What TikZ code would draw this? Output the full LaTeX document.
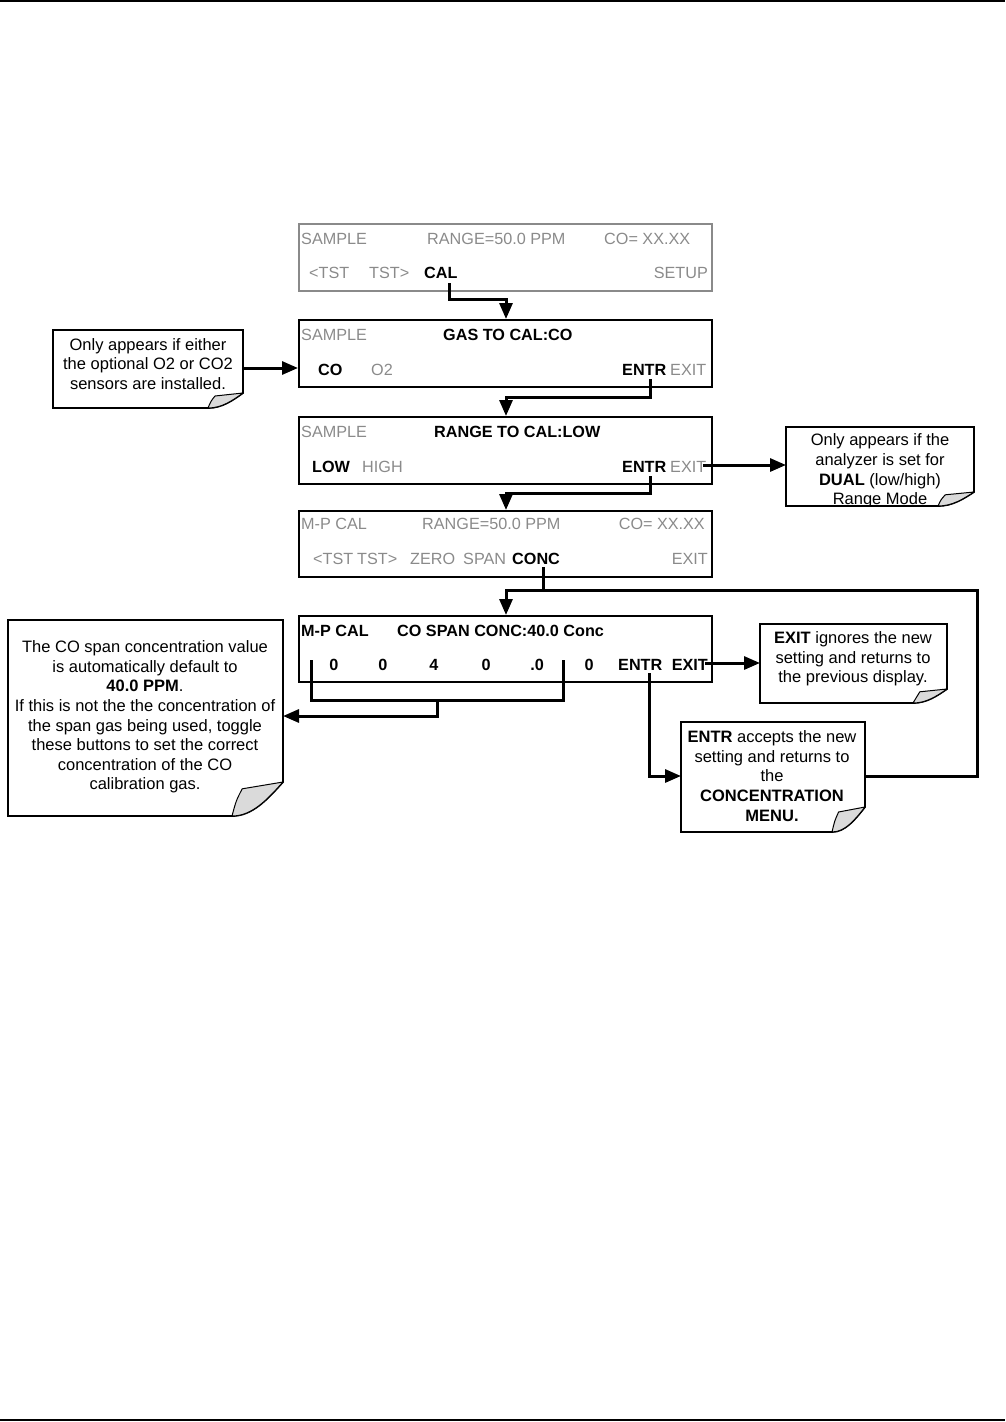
\documentclass[tikz,border=0pt]{standalone}
\usepackage{fontspec}
\setmainfont{Liberation Sans}
\usetikzlibrary{arrows.meta}
\definecolor{lcdgray}{HTML}{8A8A8A}
\definecolor{foldgray}{HTML}{DADADA}
\newcommand\notefold[6]{% x1 y1 x2 y2 xf yf
  \draw[calloutline] (#1,#2) -- (#3,#2) -- (#3,#6)
     .. controls ({#3-0.3*(#3-#5)},{#6+0.5*(#4-#6)}) and ({#5+0.4*(#3-#5)},#4) .. (#5,#4)
     -- (#1,#4) -- cycle;
  \draw[line width=1pt, fill=foldgray, line join=round] (#5,#4)
     .. controls ({#5+0.08*(#3-#5)},{#4-0.45*(#4-#6)}) .. ({#5+0.2*(#3-#5)},{#6+0.2*(#4-#6)})
     -- (#3,#6)
     .. controls ({#3-0.3*(#3-#5)},{#6+0.5*(#4-#6)}) and ({#5+0.4*(#3-#5)},#4) .. (#5,#4) -- cycle;
}
\begin{document}
\begin{tikzpicture}[x=1pt,y=-1pt,
  dispbox/.style={draw=black, line width=2.2pt, anchor=north west, inner sep=0,
                  minimum width=413pt, minimum height=67pt},
  gtx/.style={text=lcdgray, inner sep=0, font=\fontsize{16.2}{19}\selectfont},
  btx/.style={text=black, inner sep=0, font=\fontsize{16.2}{19}\selectfont\bfseries},
  ctx/.style={inner sep=0, align=center, font=\fontsize{16.5}{19.6}\selectfont},
  conn/.style={line width=3pt},
  arr/.style={conn, -{Triangle[length=16pt,width=13pt]}},
  calloutline/.style={draw=black, line width=1.8pt, fill=white, line join=miter},
]
\useasboundingbox (0,0) rectangle (1005,1422);
% page rules
\draw[line width=2pt] (0,1) -- (1005,1);
\draw[line width=2pt] (0,1420) -- (1005,1420);

% ---------- display boxes ----------
\node[dispbox, draw=lcdgray, line width=1.8pt] (b1) at (298,223) {};
\node[dispbox] (b2) at (298,319) {};
\node[dispbox] (b3) at (298,416) {};
\node[dispbox, minimum height=66pt] (b4) at (298,510) {};
\node[dispbox, minimum height=66pt] (b5) at (298,615) {};

% box 1
\node[gtx, anchor=base west] (b1s) at (301,244) {SAMPLE};
\node[gtx, anchor=base west] (b1r) at (427,244) {RANGE=50.0 PPM};
\node[gtx, anchor=base west] (b1c) at (604,244) {CO= XX.XX};
\node[gtx, anchor=base west] (b1t1) at (309,278) {<TST};
\node[gtx, anchor=base west] (b1t2) at (369,278) {TST>};
\node[btx, anchor=base west] (cal) at (424,278) {CAL};
\node[gtx, anchor=base east] (b1set) at (708,278) {SETUP};

% box 2
\node[gtx, anchor=base west] (b2s) at (301,340) {SAMPLE};
\node[btx, anchor=base west] (b2h) at (443,340) {GAS TO CAL:CO};
\node[btx, anchor=base west] (b2co) at (318,375) {CO};
\node[gtx, anchor=base west] (b2o2) at (371,375) {O2};
\node[btx, anchor=base west] (b2en) at (622,375) {ENTR};
\node[gtx, anchor=base west] (b2ex) at (670,375) {EXIT};

% box 3
\node[gtx, anchor=base west] (b3s) at (301,437) {SAMPLE};
\node[btx, anchor=base west] (b3h) at (434,437) {RANGE TO CAL:LOW};
\node[btx, anchor=base west] (b3lo) at (312,472) {LOW};
\node[gtx, anchor=base west] (b3hi) at (362,472) {HIGH};
\node[btx, anchor=base west] (b3en) at (622,472) {ENTR};
\node[gtx, anchor=base west] (b3ex) at (670,472) {EXIT};

% box 4
\node[gtx, anchor=base west] (b4s) at (301,529) {M-P CAL};
\node[gtx, anchor=base west] (b4r) at (422,529) {RANGE=50.0 PPM};
\node[gtx, anchor=base east] (b4c) at (705,529) {CO= XX.XX};
\node[gtx, anchor=base west] (b4t1) at (313,564) {<TST};
\node[gtx, anchor=base west] (b4t2) at (357,564) {TST>};
\node[gtx, anchor=base west] (b4z) at (410,564) {ZERO};
\node[gtx, anchor=base west] (b4sp) at (463,564) {SPAN};
\node[btx, anchor=base west] (conc) at (512,564) {CONC};
\node[gtx, anchor=base east] (b4ex) at (708,564) {EXIT};

% box 5
\node[btx, anchor=base west] (b5s) at (301,636) {M-P CAL};
\node[btx, anchor=base west] (b5h) at (397,636) {CO SPAN CONC:40.0 Conc};
\node[btx, anchor=base] (d1) at (334,670) {0};
\node[btx, anchor=base] (d2) at (383,670) {0};
\node[btx, anchor=base] (d3) at (434,670) {4};
\node[btx, anchor=base] (d4) at (486,670) {0};
\node[btx, anchor=base] (d5) at (537,670) {.0};
\node[btx, anchor=base] (d6) at (589,670) {0};
\node[btx, anchor=base west] (b5en) at (618,670) {ENTR};
\node[btx, anchor=base east] (b5ex) at (708,670) {EXIT};

% ---------- callouts ----------
\notefold{53}{330}{243}{408}{208}{393}
\node[ctx] (n1) at (148,364) {Only appears if either\\the optional O2 or CO2\\sensors are installed.};
\coordinate (n1e) at (243,368);

\notefold{786}{427}{974}{506}{938}{492}
\begin{scope}
\clip (786,427) rectangle (974,506);
\node[ctx] (n2) at (880,471) {Only appears if the\\analyzer is set for\\{\bfseries DUAL} (low/high)\\Range Mode};
\end{scope}
\draw[line width=1.8pt] (786,506) -- (938,506);
\coordinate (n2w) at (786,465);

\notefold{8}{620}{283}{816}{232}{782}
\node[ctx] (n3) at (145,717) {The CO span concentration value\\is automatically default to\\{\bfseries 40.0 PPM}.\\If this is not the the concentration of\\the span gas being used, toggle\\these buttons to set the correct\\concentration of the CO\\calibration gas.};
\coordinate (n3e) at (283,716);

\notefold{760}{624}{947}{703}{913}{689}
\node[ctx] (n4) at (853,659) {{\bfseries EXIT} ignores the new\\setting and returns to\\the previous display.};
\coordinate (n4w) at (760,663);

\notefold{681}{722}{865}{832}{832}{807}
\node[ctx] (n5) at (772,776) {{\bfseries ENTR} accepts the new\\setting and returns to\\the\\{\bfseries CONCENTRATION}\\{\bfseries MENU.}};
\coordinate (n5w) at (681,776);
\coordinate (n5e) at (865,776);

% ---------- connectors ----------
\coordinate (calp) at (449,283);
\draw[arr] (calp) -- (449,299) -- (506,299) -- (b2.north -| 506,0);

\coordinate (en2) at (650,379);
\draw[arr] (en2) -- (650,397) -- (506,397) -- (b3.north -| 506,0);

\coordinate (en3) at (650,476);
\draw[arr] (en3) -- (650,493) -- (506,493) -- (b4.north -| 506,0);

\draw[arr] (n1e) -- (b2.west |- n1e);

\coordinate (ex3) at (703,465);
\draw[arr] (ex3) -- (n2w);

\coordinate (concp) at (543,567);
\draw[conn] (concp) -- (543,590);
\draw[arr] (n5e) -- (977,776) -- (977,590) -- (506,590) -- (b5.north -| 506,0);

% bracket under digits
\coordinate (brl) at (311,660);
\coordinate (brr) at (563,660);
\draw[conn, line join=miter] (brl) -- (311,700) -- (563,700) -- (brr);
\draw[arr] (437,700) -- (437,716) -- (n3e);

\coordinate (en5) at (649,673);
\draw[arr] (en5) -- (649,776) -- (n5w);

\coordinate (ex5) at (705,663);
\draw[arr] (ex5) -- (n4w);
\end{tikzpicture}
\end{document}
